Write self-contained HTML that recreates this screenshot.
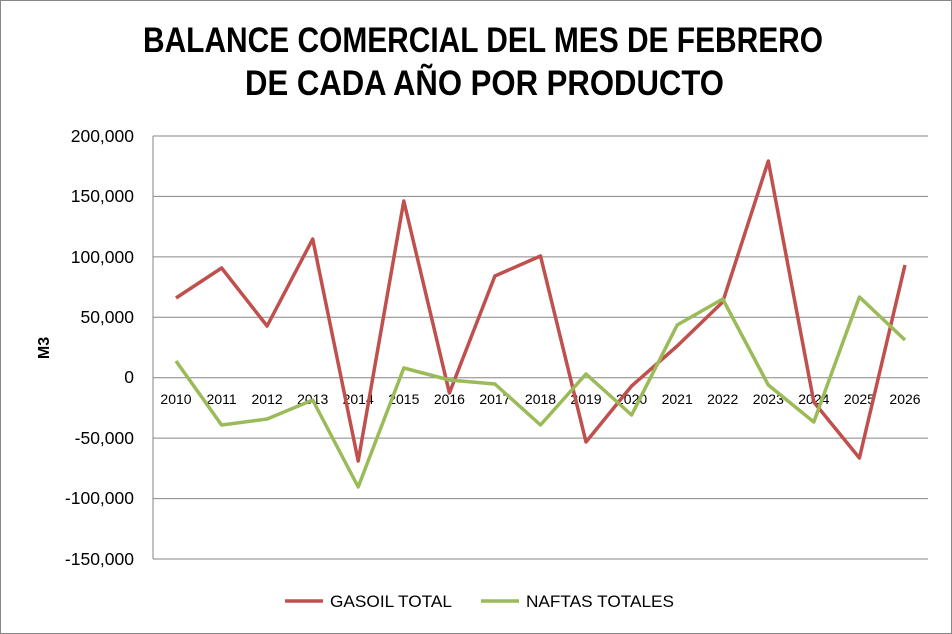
<!DOCTYPE html>
<html><head><meta charset="utf-8"><style>
body{margin:0;background:#fff;}
svg{display:block;font-family:"Liberation Sans",Arial,sans-serif;}
</style></head><body>
<svg width="952" height="634" viewBox="0 0 952 634" xmlns="http://www.w3.org/2000/svg">
<rect x="0.5" y="0.5" width="951" height="633" fill="#fff" stroke="#888"/>
<text x="143" y="52" textLength="680" lengthAdjust="spacingAndGlyphs" font-size="35" font-weight="bold" fill="#000">BALANCE COMERCIAL DEL MES DE FEBRERO</text>
<text x="245" y="95" textLength="479" lengthAdjust="spacingAndGlyphs" font-size="35" font-weight="bold" fill="#000">DE CADA AÑO POR PRODUCTO</text>
<g stroke="#868686" stroke-width="1">
<line x1="153" y1="136" x2="928" y2="136"/>
<line x1="153" y1="196.4" x2="928" y2="196.4"/>
<line x1="153" y1="256.9" x2="928" y2="256.9"/>
<line x1="153" y1="317.3" x2="928" y2="317.3"/>
<line x1="153" y1="377.7" x2="928" y2="377.7"/>
<line x1="153" y1="438.1" x2="928" y2="438.1"/>
<line x1="153" y1="498.6" x2="928" y2="498.6"/>
<line x1="153" y1="559" x2="928" y2="559"/>
<line x1="153" y1="136" x2="153" y2="559"/>
</g>
<g font-size="17.5" text-anchor="end" fill="#000">
<text x="134" y="142">200,000</text>
<text x="134" y="202">150,000</text>
<text x="134" y="263">100,000</text>
<text x="134" y="323">50,000</text>
<text x="134" y="383">0</text>
<text x="134" y="444">-50,000</text>
<text x="134" y="504">-100,000</text>
<text x="134" y="565">-150,000</text>
</g>
<text transform="translate(49,348) rotate(-90)" text-anchor="middle" font-size="16" font-weight="bold">M3</text>
<g font-size="14" text-anchor="middle" fill="#000">
<text x="176" y="404">2010</text><text x="221.6" y="404">2011</text><text x="267.1" y="404">2012</text><text x="312.7" y="404">2013</text><text x="358.2" y="404">2014</text><text x="403.8" y="404">2015</text><text x="449.4" y="404">2016</text><text x="494.9" y="404">2017</text><text x="540.5" y="404">2018</text><text x="586" y="404">2019</text><text x="631.6" y="404">2020</text><text x="677.2" y="404">2021</text><text x="722.7" y="404">2022</text><text x="768.3" y="404">2023</text><text x="813.8" y="404">2024</text><text x="859.4" y="404">2025</text><text x="905" y="404">2026</text>
</g>
<polyline fill="none" stroke="#C0504D" stroke-width="3.5" stroke-linejoin="round" points="176,298 221.6,268 267.1,326 312.7,239 358.2,461 403.8,201 449.4,393 494.9,276 540.5,256 586,442 631.6,386 677.2,346 722.7,302 768.3,161 813.8,402 859.4,458 905,265"/>
<polyline fill="none" stroke="#9BBB59" stroke-width="3.5" stroke-linejoin="round" points="176,361 221.6,425 267.1,419 312.7,400 358.2,487 403.8,368 449.4,380 494.9,384 540.5,425 586,374 631.6,415 677.2,325 722.7,299 768.3,385 813.8,422 859.4,297 905,340"/>
<line x1="285" y1="601" x2="323" y2="601" stroke="#C0504D" stroke-width="3.5"/>
<text x="330" y="607" font-size="17" textLength="122" lengthAdjust="spacingAndGlyphs">GASOIL TOTAL</text>
<line x1="481" y1="601" x2="519" y2="601" stroke="#9BBB59" stroke-width="3.5"/>
<text x="526" y="607" font-size="17" textLength="148" lengthAdjust="spacingAndGlyphs">NAFTAS TOTALES</text>
</svg>
</body></html>
